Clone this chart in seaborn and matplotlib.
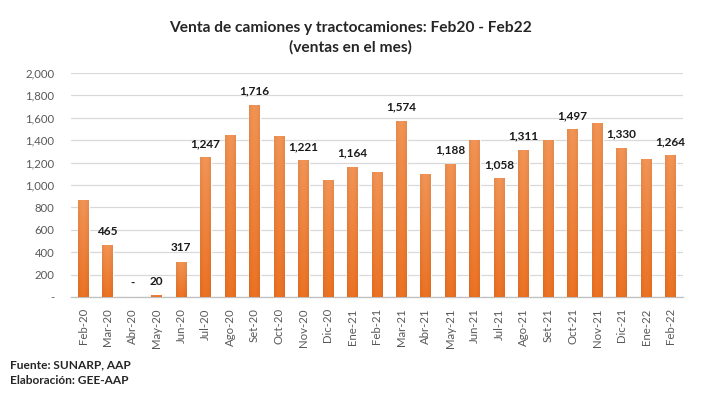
import numpy as np
import matplotlib
matplotlib.use("Agg")
import matplotlib.pyplot as plt
from matplotlib.colors import to_rgb
import seaborn as sns

months = ["Feb-20", "Mar-20", "Abr-20", "May-20", "Jun-20", "Jul-20", "Ago-20",
          "Set-20", "Oct-20", "Nov-20", "Dic-20", "Ene-21", "Feb-21", "Mar-21",
          "Abr-21", "May-21", "Jun-21", "Jul-21", "Ago-21", "Set-21", "Oct-21",
          "Nov-21", "Dic-21", "Ene-22", "Feb-22"]
sales = [870, 465, 0, 20, 317, 1247, 1450, 1716, 1440, 1221, 1040, 1164, 1120,
         1574, 1100, 1188, 1405, 1058, 1311, 1400, 1497, 1550, 1330, 1235, 1264]
# months whose value is printed above the bar
labeled = ["Mar-20", "Abr-20", "May-20", "Jun-20", "Jul-20", "Set-20", "Nov-20",
           "Ene-21", "Mar-21", "May-21", "Jul-21", "Ago-21", "Oct-21", "Dic-21",
           "Feb-22"]
yticks = [0, 200, 400, 600, 800, 1000, 1200, 1400, 1600, 1800, 2000]

sns.set_style("white")
plt.rcParams["font.family"] = ["Lato", "DejaVu Sans"]

fig = plt.figure(figsize=(7.12, 3.94), dpi=100)
ax = fig.add_axes([0.0997, 0.246, 0.8593, 0.569])

sns.barplot(x=months, y=sales, color="#EE7A2E", width=0.44, saturation=1,
            ax=ax, zorder=3)

# Excel-like gradient fill: lighter at the top, slightly darker at the sides
top_c = np.array(to_rgb("#F29455"))
bot_c = np.array(to_rgb("#EC7223"))
t = np.linspace(0, 1, 64)[:, None, None]
vert = top_c * (1 - t) + bot_c * t
side = 1 - 0.06 * np.abs(np.linspace(-1, 1, 16))[None, :, None] ** 2
grad = np.clip(vert * side, 0, 1)
for p in ax.patches:
    x0, y0 = p.get_x(), p.get_y()
    w, h = p.get_width(), p.get_height()
    if h <= 0:
        continue
    im = ax.imshow(grad, extent=[x0, x0 + w, y0, y0 + h], aspect="auto",
                   origin="upper", zorder=3.5, interpolation="bilinear")
    im.set_clip_path(p)

def fmt(v):
    return "-" if v == 0 else f"{v:,}"

for i, (m, v) in enumerate(zip(months, sales)):
    if m in labeled:
        ax.annotate(fmt(v), (i, v), xytext=(0, 6), textcoords="offset points",
                    ha="center", va="bottom", fontsize=8.5, fontweight="bold",
                    color="#1a1a1a")

ax.set_ylim(0, 2000)
ax.set_xlim(-0.5, len(months) - 0.5)
ax.set_yticks(yticks)
ax.set_yticklabels([fmt(t) for t in yticks], fontsize=8.2, color="#595959")
ax.set_xticks(range(len(months)))
ax.set_xticklabels(months, rotation=90, fontsize=8.2, color="#595959")
ax.tick_params(axis="y", length=0, pad=12)
ax.tick_params(axis="x", length=0, pad=8)
# category separator ticks on the x axis
ax.set_xticks(np.arange(-0.5, len(months)), minor=True)
ax.tick_params(axis="x", which="minor", length=4, color="#BFBFBF", width=0.8)

ax.yaxis.grid(True, color="#D9D9D9", linewidth=0.9, zorder=0)
ax.set_axisbelow(True)
for s in ["top", "right", "left"]:
    ax.spines[s].set_visible(False)
ax.spines["bottom"].set_color("#BFBFBF")
ax.spines["bottom"].set_linewidth(0.9)

fig.text(0.492, 0.93, "Venta de camiones y tractocamiones: Feb20 - Feb22",
         ha="center", va="center", fontsize=11.2, fontweight="bold")
fig.text(0.492, 0.88, "(ventas en el mes)", ha="center", va="center",
         fontsize=11.2, fontweight="bold")
fig.text(0.014, 0.075, "Fuente: SUNARP, AAP", ha="left", va="center",
         fontsize=8.6, fontweight="bold")
fig.text(0.014, 0.033, "Elaboración: GEE-AAP", ha="left", va="center",
         fontsize=8.6, fontweight="bold")

fig.savefig("out.png", dpi=100)
plt.close(fig)
